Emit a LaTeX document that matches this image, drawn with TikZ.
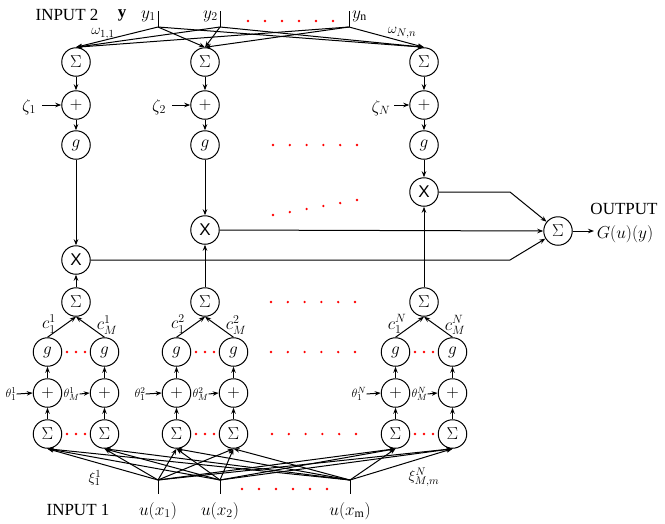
\documentclass[tikz,border=0pt]{standalone}
\usepackage{fontspec}
\setmainfont{Liberation Serif}
\setsansfont{Liberation Sans}
\usetikzlibrary{arrows.meta}
\begin{document}
\begin{tikzpicture}[x=1pt,y=-1pt,
  neuron/.style={circle,draw,line width=1pt,minimum size=28.5pt,inner sep=0pt,font=\fontsize{17}{17}\selectfont},
  arr/.style={-{Stealth[length=6pt,width=4.5pt]},line width=1pt},
  wire/.style={line width=1pt},
  lbl/.style={inner sep=0pt,font=\fontsize{17}{17}\selectfont},
  mlbl/.style={inner sep=0pt,font=\fontsize{17}{17}\selectfont},
  slbl/.style={inner sep=0pt,font=\fontsize{15}{15}\selectfont},
  tlbl/.style={inner sep=0pt,font=\fontsize{12.5}{12.5}\selectfont}]
\useasboundingbox (0,0) rectangle (665,523);
\newcommand\rdot[2]{\fill[red] (#1,#2) circle (1.3pt);}
% ---------- top part ----------
\foreach \c/\n/\xy in {76/1/260,205/2/230,424/N/192}{
  \node[neuron] (S\n) at (\c,62) {$\Sigma$};
  \node[neuron] (P\n) at (\c,105) {$+$};
  \node[neuron] (G\n) at (\c,145) {$g$};
  \node[neuron,font=\fontsize{17}{17}\selectfont\sffamily] (X\n) at (\c,\xy) {X};
  \draw[arr] (S\n) -- (P\n);
  \draw[arr] (P\n) -- (G\n);
  \draw[arr] (G\n) -- (X\n);
}
\node[neuron] (O) at (558,231) {$\Sigma$};
% input 2
\node[lbl] (in2) at (67,15) {INPUT 2};
\node[mlbl] (ybold) at (122,15) {$\mathbf{y}$};
\foreach \j/\x in {1/158,2/220,n/349}{
  \coordinate (yt\j) at (\x,11);
  \coordinate (yb\j) at (\x,27);
  \draw[wire] (yt\j) -- (yb\j);
  \foreach \n in {1,2,N}{ \draw[arr] (yb\j) -- (S\n.north); }
}
\node[mlbl,anchor=east] (ly1) at (156,16) {$y_1$};
\node[mlbl,anchor=east] (ly2) at (218,16) {$y_2$};
\node[mlbl,anchor=west] (lyn) at (352,16) {$y_{\mathrm{n}}$};
\node[slbl] (w11) at (103,34) {$\omega_{1,1}$};
\node[slbl] (wNn) at (402,33) {$\omega_{N,n}$};
% zeta
\node[mlbl] (z1) at (29,107) {$\zeta_1$};
\node[mlbl] (z2) at (159,107) {$\zeta_2$};
\node[mlbl] (zN) at (381,108) {$\zeta_N$};
\coordinate (za1) at (42,105);
\coordinate (za2) at (172,105);
\coordinate (zaN) at (394,105);
\draw[arr] (za1) -- (P1.west);
\draw[arr] (za2) -- (P2.west);
\draw[arr] (zaN) -- (PN.west);
% output
\coordinate (k1) at (510,260);
\coordinate (kN) at (510,192);
\draw[arr] (X1.east) -- (k1) -- (O);
\draw[arr] (X2.east) -- (O.west);
\draw[arr] (XN.east) -- (kN) -- (O);
\coordinate (oe) at (594,231);
\draw[arr] (O.east) -- (oe);
\node[lbl] (outt) at (624,209) {OUTPUT};
\node[mlbl] (outg) at (625,234) {$G(u)(y)$};
% ---------- bottom part ----------
\foreach \c/\n in {76/1,205/2,424/N}{
  \node[neuron] (C\n) at (\c,302) {$\Sigma$};
  \node[neuron] (GL\n) at (\c-28.5,352) {$g$};
  \node[neuron] (GR\n) at (\c+28.5,352) {$g$};
  \node[neuron] (PL\n) at (\c-28.5,393) {$+$};
  \node[neuron] (PR\n) at (\c+28.5,393) {$+$};
  \node[neuron] (BL\n) at (\c-28.5,434) {$\Sigma$};
  \node[neuron] (BR\n) at (\c+28.5,434) {$\Sigma$};
  \draw[arr] (C\n) -- (X\n);
  \draw[arr] (GL\n.north) -- (C\n.south);
  \draw[arr] (GR\n.north) -- (C\n.south);
  \draw[arr] (PL\n) -- (GL\n);
  \draw[arr] (PR\n) -- (GR\n);
  \draw[arr] (BL\n) -- (PL\n);
  \draw[arr] (BR\n) -- (PR\n);
  \foreach \d in {-9,0,9}{ \rdot{\c+\d}{352} \rdot{\c+\d}{434} }
  \node[mlbl] (cl\n) at (\c-27,324) {$c_1^{\n}$};
  \node[mlbl] (cr\n) at (\c+31,325) {$c_M^{\n}$};
  \node[tlbl] (tl\n) at (\c-65,394) {$\theta_1^{\n}$};
  \node[tlbl] (tr\n) at (\c-4.5,394) {$\theta_M^{\n}$};
  \draw[arr] (tl\n.east) -- (PL\n.west);
  \draw[arr] (tr\n.east) -- (PR\n.west);
}
% input 1
\foreach \j/\x in {1/158,2/220,m/350}{
  \coordinate (ut\j) at (\x,480);
  \coordinate (ub\j) at (\x,494);
  \draw[wire] (ut\j) -- (ub\j);
  \foreach \n in {1,2,N}{
    \draw[arr] (ut\j) -- (BL\n.south);
    \draw[arr] (ut\j) -- (BR\n.south);
  }
}
\node[lbl] (in1) at (78,510) {INPUT 1};
\node[mlbl] (ux1) at (158,511) {$u(x_1)$};
\node[mlbl] (ux2) at (220,511) {$u(x_2)$};
\node[mlbl] (uxm) at (350,511) {$u(x_{\mathrm{m}})$};
\node[slbl] (xi11) at (95,478) {$\xi_1^1$};
\node[slbl] (xiN) at (424,477) {$\xi_{M,m}^N$};
% ---------- red dots ----------
\foreach \k in {0,...,5}{
  \rdot{248+17*\k}{21}
  \rdot{273+16.8*\k}{145}
  \rdot{273+16.8*\k}{215-3*\k}
  \rdot{271+16.8*\k}{302}
  \rdot{271+16.8*\k}{352}
  \rdot{272+16.8*\k}{434}
  \rdot{242+17*\k}{489}
}
\end{tikzpicture}
\end{document}
